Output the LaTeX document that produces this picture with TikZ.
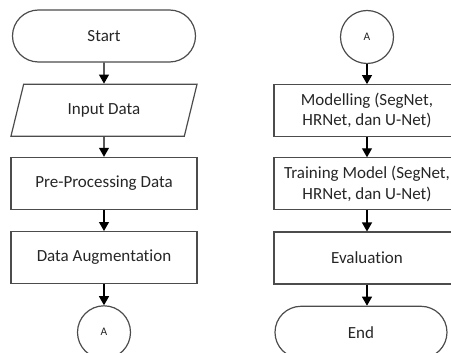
\documentclass[tikz,border=0pt]{standalone}
\usepackage{fontspec}
\setmainfont{Carlito}[Ligatures={NoCommon,NoRequired,NoContextual}]
\usetikzlibrary{positioning,shapes.geometric,shapes.misc,arrows.meta}

\tikzset{
	base/.style={draw=black!70, line width=1.2pt, text=black!85, font=\fontsize{17}{20.5}\selectfont, align=center, minimum height=52pt, inner sep=2pt},
	terminal/.style={base, rounded rectangle, minimum width=187pt},
	iobox/.style={base, trapezium, trapezium left angle=71, trapezium right angle=109, trapezium stretches=true, minimum width=187pt},
	procbox/.style={base, rectangle, minimum width=186pt},
	connector/.style={base, circle, minimum size=53pt, font=\fontsize{11.5}{13}\selectfont},
	flow/.style={draw=black, line width=1.1pt, -{Triangle[length=9pt,width=10pt]}}
}

\begin{document}
\begin{tikzpicture}[x=1pt, y=-1pt]
	\useasboundingbox (0,0) rectangle (451,353);
	\clip (0,0) rectangle (451,353);
	% left column
	\node[terminal] (start) at (104,36) {Start};
	\node[iobox, below=21pt of start] (input) {Input Data};
	\node[procbox, below=20pt of input] (prepro) {Pre-Processing Data};
	\node[procbox, below=21pt of prepro] (augment) {Data Augmentation};
	\node[connector, below=21pt of augment] (linkA) {A};
	\draw[flow] (start) -- (input);
	\draw[flow] (input) -- (prepro);
	\draw[flow] (prepro) -- (augment);
	\draw[flow] (augment) -- (linkA);
	% right column
	\node[connector] (linkB) at (367,37) {A};
	\node[procbox, below=20pt of linkB] (model) {Modelling (SegNet,\\HRNet, dan U-Net)};
	\node[procbox, below=20pt of model] (train) {Training Model (SegNet,\\HRNet, dan U-Net)};
	\node[procbox, below=21pt of train] (eval) {Evaluation};
	\node[terminal, minimum width=176pt, below=21pt of eval, xshift=-6pt] (finish) {End};
	\draw[flow] (linkB) -- (model);
	\draw[flow] (model) -- (train);
	\draw[flow] (train) -- (eval);
	\draw[flow] (eval) -- (eval |- finish.north);
\end{tikzpicture}
\end{document}
